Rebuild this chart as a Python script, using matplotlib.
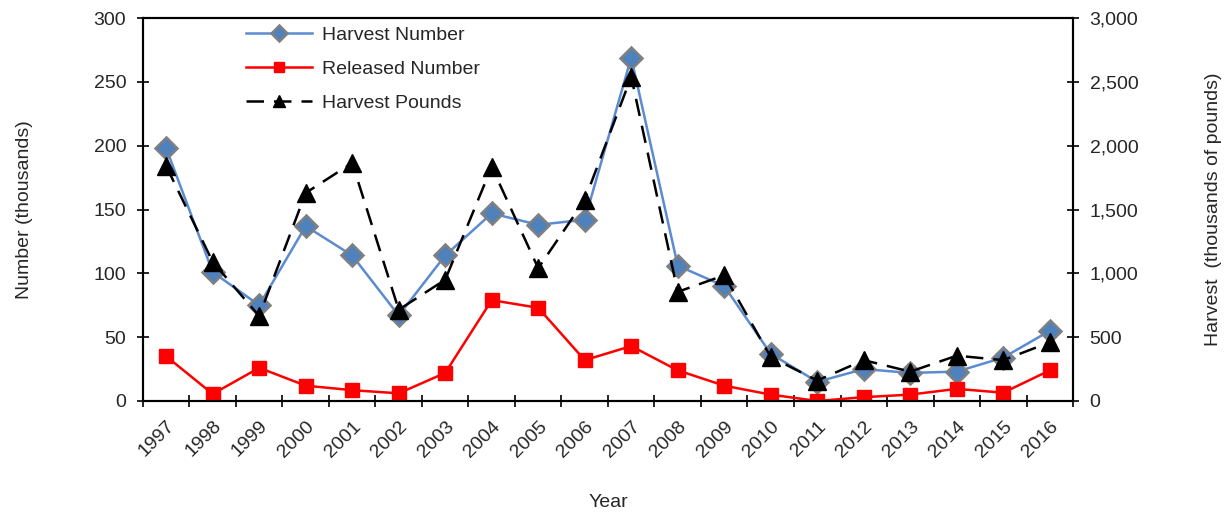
import matplotlib.pyplot as plt
import numpy as np

plt.rcParams['font.family'] = ['Liberation Sans', 'DejaVu Sans']

years = [str(y) for y in range(1997, 2017)]
harvest_number = [198, 101, 75, 137, 114, 67, 114, 147, 138, 142,
                  269, 106, 90, 37, 15, 25, 22, 23, 34, 55]
released_number = [35, 5.5, 26, 12, 8.5, 6, 22, 79, 73, 32,
                   43, 24, 12, 5, 0, 3, 5, 9.5, 6.5, 24]
harvest_pounds = [1840, 1090, 665, 1630, 1865, 715, 950, 1835, 1040, 1575,
                  2540, 855, 985, 345, 160, 320, 230, 355, 320, 460]

txt = '#262626'
fs = 14
x = np.arange(len(years))

fig = plt.figure(figsize=(12.28, 5.12), dpi=100)
ax = fig.add_axes([0.1164, 0.2168, 0.7574, 0.748])
ax2 = ax.twinx()

l1, = ax.plot(x, harvest_number, color='#5B8BD0', lw=1.8, marker='D', ms=11,
              mfc='#4F81BD', mec='#808080', mew=1.8, label='Harvest Number', zorder=3)
l2, = ax.plot(x, released_number, color='#FF0000', lw=1.8, marker='s', ms=10,
              mfc='#FF0000', mec='#FF0000', label='Released Number', zorder=4)
l3, = ax2.plot(x, harvest_pounds, color='black', lw=1.8, ls=(0, (7, 4)), marker='^', ms=12.5,
               mfc='black', mec='black', label='Harvest Pounds')

ax.set_xlim(-0.5, len(years) - 0.5)
ax.set_ylim(0, 300)
ax2.set_ylim(0, 3000)
ax.set_yticks(range(0, 301, 50))
ax2.set_yticks(range(0, 3001, 500))
ax2.set_yticklabels([f'{v:,}' for v in range(0, 3001, 500)])

ax.set_xticks(np.arange(-0.5, len(years), 1))
ax.set_xticklabels([])
ax.set_xticks(x, minor=True)
ax.set_xticklabels(years, minor=True, rotation=45, ha='right', rotation_mode='anchor')
ax.tick_params(axis='x', which='major', direction='inout', length=8, width=1.2)
ax.tick_params(axis='x', which='minor', length=0, pad=12, labelsize=fs, labelcolor=txt)
ax.tick_params(axis='y', direction='inout', length=8, width=1.2, labelsize=fs, labelcolor=txt, pad=8)
ax2.tick_params(axis='y', direction='inout', length=8, width=1.2, labelsize=fs, labelcolor=txt, pad=8)

for a in (ax, ax2):
    for s in a.spines.values():
        s.set_linewidth(1.5)
        s.set_color('black')

ax.set_xlabel('Year', fontsize=fs, color=txt, labelpad=24)
ax.set_ylabel('Number (thousands)', fontsize=fs, color=txt, labelpad=44)
ax2.set_ylabel('Harvest  (thousands of pounds)', fontsize=fs, color=txt, labelpad=48)

ax.legend([l1, l2, l3], ['Harvest Number', 'Released Number', 'Harvest Pounds'],
          loc='upper left', bbox_to_anchor=(0.092, 1.025), frameon=False,
          fontsize=fs, labelcolor=txt, handlelength=3.4, handletextpad=0.5,
          labelspacing=0.85, markerscale=0.7)

fig.savefig('out.png', dpi=100)
